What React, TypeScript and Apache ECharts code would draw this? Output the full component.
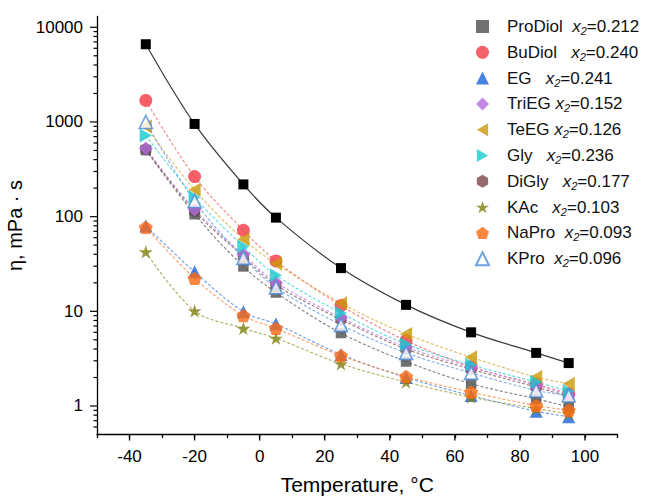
import React, { useEffect, useRef } from 'react';
import * as echarts from 'echarts';

// ---------- data ----------
const temperatures = [-35, -20, -5, 5, 25, 45, 65, 85, 95];
const reference = [6620, 953, 219, 97.6, 28.6, 11.7, 6.0, 3.64, 2.84];
const proDiol = [505, 106, 29.8, 15.8, 5.9, 2.95, 1.72, 1.19, 0.98];
const buDiol = [1687, 265, 71.7, 34.1, 11.5, 4.9, 2.6, 1.7, 1.35];
const eg = [79.6, 26.1, 9.9, 7.35, 3.5, 2.0, 1.29, 0.88, 0.77];
const triEG = [525, 119, 40, 20.2, 8.6, 4.2, 2.57, 1.65, 1.31];
const teEG = [900, 192, 57.7, 32, 12.2, 5.77, 3.28, 2.02, 1.72];
const gly = [718, 160, 48.3, 24.1, 9.6, 4.5, 2.72, 1.79, 1.43];
const diGly = [515, 114, 38, 19, 8.2, 4.0, 2.45, 1.58, 1.26];
const kAc = [42.4, 10.1, 6.6, 5.2, 2.79, 1.79, 1.24, 0.94, 0.83];
const naPro = [77, 22.3, 9.0, 6.6, 3.4, 2.05, 1.4, 1.01, 0.9];
const kPro = [1000, 146, 36.7, 17.9, 7.2, 3.64, 2.24, 1.46, 1.29];

const seriesNames = ['ProDiol', 'BuDiol', 'EG', 'TriEG', 'TeEG', 'Gly', 'DiGly', 'KAc', 'NaPro', 'KPro'];
const seriesValues = [proDiol, buDiol, eg, triEG, teEG, gly, diGly, kAc, naPro, kPro];
const x2Values = ['0.212', '0.240', '0.241', '0.152', '0.126', '0.236', '0.177', '0.103', '0.093', '0.096'];
const legendSpacers = ['  ', '   ', '   ', ' ', ' ', '   ', '   ', '   ', '  ', '  '];

const xMajorTicks = [-40, -20, 0, 20, 40, 60, 80, 100];
const yDecadeTicks = [1, 10, 100, 1000, 10000];
const yMinorMantissas = [2, 3, 4, 5, 6, 7, 8, 9];
const yMinorDecades = [0.1, 1, 10, 100, 1000];

const X_MIN = -50;
const X_MAX = 110;
const Y_MIN = 0.5;
const Y_MAX = 13000;

// ---------- styles ----------
const FONT = '"Liberation Sans", Arial, sans-serif';
const HEX = 'path://M50,0L93.3,25L93.3,75L50,100L6.7,75L6.7,25Z';
const STAR = 'path://M50,0L61.23,34.55L97.55,34.55L68.17,55.9L79.39,90.45L50,69.1L20.61,90.45L31.83,55.9L2.45,34.55L38.77,34.55Z';
const PENT = 'path://M50,0L97.6,34.5L79.4,90.5L20.6,90.5L2.4,34.5Z';
const TRI_LEFT = 'path://M0,50L87,0L87,100Z';
const TRI_RIGHT = 'path://M87,50L0,0L0,100Z';

const styles: any[] = [
  { symbol: 'rect', color: '#4d4d4d', line: '#6a6a6a', size: 10.5 },
  { symbol: 'circle', color: '#f23a43', line: '#f56a70', size: 13 },
  { symbol: 'triangle', color: '#1c63d8', line: '#4f86e0', size: 13 },
  { symbol: 'diamond', color: '#b56be0', line: '#c08ae6', size: 14 },
  { symbol: TRI_LEFT, color: '#c9980a', line: '#d8ae3c', size: 14 },
  { symbol: TRI_RIGHT, color: '#19c9cf', line: '#3fd3d8', size: 14 },
  { symbol: HEX, color: '#7a4646', line: '#8e6060', size: 13 },
  { symbol: STAR, color: '#7f7f10', line: '#a0a040', size: 14 },
  { symbol: PENT, color: '#ff6a12', line: '#ff8a45', size: 14 },
  { symbol: 'triangle', color: '#ffffff', border: '#4a8ad6', line: '#6a9fde', size: 13 },
];

function buildOption() {
  const yMinorTicks: number[] = [];
  yMinorDecades.forEach((d) => {
    yMinorMantissas.forEach((m) => {
      const v = +(m * d).toPrecision(6);
      if (v > Y_MIN && v < Y_MAX) yMinorTicks.push(v);
    });
  });

  const lineSeries = seriesNames.map((name, i) => ({
    name: name + ' fit',
    type: 'line',
    data: temperatures.map((t, k) => [t, seriesValues[i][k]]),
    showSymbol: false,
    symbol: 'none',
    smooth: 0.35,
    silent: true,
    z: 1,
    lineStyle: { color: styles[i].line, width: 1.1, type: [3, 2], opacity: 0.85 },
  }));

  const scatterSeries = seriesNames.map((name, i) => {
    const s = styles[i];
    return {
      name,
      type: 'scatter',
      data: temperatures.map((t, k) => [t, seriesValues[i][k]]),
      symbol: s.symbol,
      symbolSize: s.size,
      symbolKeepAspect: true,
      z: name === 'DiGly' ? 2 : 3,
      itemStyle: s.border
        ? { color: s.color, borderColor: s.border, borderWidth: 1.6 }
        : { color: s.color },
    };
  });

  const refSeries = {
    name: 'Reference',
    type: 'line',
    data: temperatures.map((t, k) => [t, reference[k]]),
    smooth: 0.35,
    symbol: 'rect',
    symbolSize: 10,
    showSymbol: true,
    z: 4,
    itemStyle: { color: '#000000' },
    lineStyle: { color: '#3a3a3a', width: 1.2, type: 'solid' },
  };

  const xTickSeries = {
    name: 'xticks',
    type: 'custom',
    silent: true,
    clip: false,
    z: 6,
    data: xMajorTicks.map((v) => [v, Y_MIN]),
    renderItem: (params: any, api: any) => {
      const p = api.coord([api.value(0), api.value(1)]);
      return {
        type: 'line',
        shape: { x1: p[0], y1: p[1], x2: p[0], y2: p[1] + 6 },
        style: { stroke: '#000', lineWidth: 1.3 },
      };
    },
  };

  const yTickSeries = {
    name: 'yticks',
    type: 'custom',
    silent: true,
    clip: false,
    z: 6,
    data: [
      ...yDecadeTicks.map((v) => [X_MIN, v, 7]),
      ...yMinorTicks.map((v) => [X_MIN, v, 3.5]),
    ],
    renderItem: (params: any, api: any) => {
      const p = api.coord([api.value(0), api.value(1)]);
      const len = api.value(2);
      return {
        type: 'line',
        shape: { x1: p[0] - len, y1: p[1], x2: p[0], y2: p[1] },
        style: { stroke: '#000', lineWidth: 1.2 },
      };
    },
  };

  return {
    animation: false,
    backgroundColor: '#ffffff',
    textStyle: { fontFamily: FONT },
    grid: { left: 97, right: 27.5, top: 16.5, bottom: 64.5, outerBoundsMode: 'none', containLabel: false },
    legend: {
      data: seriesNames,
      orient: 'vertical',
      left: 475,
      top: 18,
      padding: 0,
      itemWidth: 13,
      itemHeight: 13,
      itemGap: 7.3,
      selectedMode: false,
      formatter: (name: string) => {
        const i = seriesNames.indexOf(name);
        return `{n|${name}${legendSpacers[i]}}{i|x}{s|2}{n|=${x2Values[i]}}`;
      },
      textStyle: {
        fontSize: 17,
        fontFamily: FONT,
        color: '#111',
        padding: [0, 0, 0, 13],
        rich: {
          n: { fontSize: 17, fontFamily: FONT, color: '#111', lineHeight: 20 },
          i: { fontSize: 17, fontFamily: FONT, fontStyle: 'italic', color: '#111', lineHeight: 20 },
          s: { fontSize: 11, fontFamily: FONT, fontStyle: 'italic', color: '#111', lineHeight: 11, verticalAlign: 'bottom' },
        },
      },
    },
    xAxis: {
      type: 'value',
      min: X_MIN,
      max: X_MAX,
      interval: 10,
      name: 'Temperature, °C',
      nameLocation: 'middle',
      nameGap: 39,
      nameTextStyle: { fontSize: 21, color: '#000', fontFamily: FONT },
      axisLine: { show: true, onZero: false, lineStyle: { color: '#000', width: 1.3 } },
      axisTick: { show: true, length: 3.5, lineStyle: { color: '#000', width: 1.3 } },
      axisLabel: {
        margin: 13,
        fontSize: 17,
        color: '#000',
        fontFamily: FONT,
        formatter: (v: number) => (xMajorTicks.indexOf(v) >= 0 ? String(v) : ''),
      },
      splitLine: { show: false },
    },
    yAxis: {
      type: 'log',
      logBase: 10,
      min: Y_MIN,
      max: Y_MAX,
      name: 'η, mPa · s',
      nameLocation: 'middle',
      nameGap: 63,
      nameTextStyle: { fontSize: 20, color: '#000', fontFamily: FONT },
      axisLine: { show: true, onZero: false, lineStyle: { color: '#000', width: 1.3 } },
      axisTick: { show: false },
      axisLabel: {
        margin: 14,
        fontSize: 17,
        color: '#000',
        fontFamily: FONT,
        formatter: (v: number) => {
          const l = Math.log10(v);
          const r = Math.round(l);
          if (Math.abs(l - r) < 1e-6 && yDecadeTicks.indexOf(Math.round(Math.pow(10, r))) >= 0) {
            return String(Math.round(Math.pow(10, r)));
          }
          return '';
        },
      },
      splitLine: { show: false },
    },
    series: [...lineSeries, ...scatterSeries, refSeries, xTickSeries, yTickSeries],
  };
}

export default function App() {
  const ref = useRef<HTMLDivElement>(null);
  useEffect(() => {
    if (!ref.current) return;
    const chart = echarts.init(ref.current, null, { renderer: 'svg' });
    chart.setOption(buildOption() as any);
    return () => chart.dispose();
  }, []);
  return (
    <div
      ref={ref}
      style={{ position: 'fixed', left: 0, top: 0, width: 645, height: 499, background: '#fff' }}
    />
  );
}
